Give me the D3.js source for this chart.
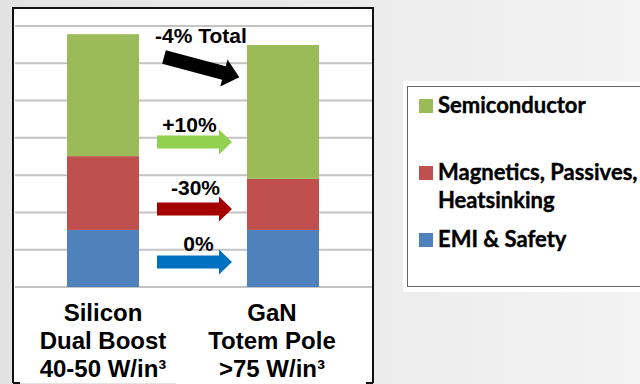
<!DOCTYPE html>
<html>
<head>
<meta charset="utf-8">
<script src="https://cdn.jsdelivr.net/npm/d3@7"></script>
<style>
  html, body { margin: 0; padding: 0; }
  body { width: 640px; height: 384px; overflow: hidden; }
</style>
</head>
<body>
<div id="chart"></div>
<script>
// categories and stacked values (axis 0..70)
var categories = ["Silicon", "GaN"];
var categoryLines = [
    ["Silicon", "Dual Boost", "40-50 W/in\u00B3"],
    ["GaN", "Totem Pole", ">75 W/in\u00B3"]
];
var seriesNames = ["EMI & Safety", "Magnetics, Passives, Heatsinking", "Semiconductor"];
var emiValues = [15.3, 15.3];
var magneticsValues = [19.8, 13.7];
var semiValues = [32.7, 35.9];
var gridTicks = [0, 10, 20, 30, 40, 50, 60, 70];

// change annotations between the two bars
var changeLabels = ["-4% Total", "+10%", "-30%", "0%"];
var changeLevels = [null, 38.9, 20.9, 6.7];

var seriesColors = ["#4F81BD", "#C0504D", "#9BBB59"];
var arrowColors = ["#000000", "#92D050", "#A50000", "#0070C0"];

var width = 640, height = 384;
var svg = d3.select("#chart").append("svg")
    .attr("width", width)
    .attr("height", height);

// light grey slide background
var defs = svg.append("defs");
var grad = defs.append("linearGradient").attr("id", "bg")
    .attr("x1", "0%").attr("x2", "100%").attr("y1", "0%").attr("y2", "0%");
grad.append("stop").attr("offset", "0%").attr("stop-color", "#e2e2e2");
grad.append("stop").attr("offset", "100%").attr("stop-color", "#f3f3f3");
svg.append("rect").attr("width", width).attr("height", height).attr("fill", "url(#bg)");

// chart frame
var frame = { left: 13, top: 8, right: 373, bottom: 383 };
svg.append("rect")
    .attr("x", frame.left).attr("y", frame.top)
    .attr("width", frame.right - frame.left).attr("height", frame.bottom - frame.top)
    .attr("fill", "#ffffff");

var yScale = d3.scaleLinear().domain([0, 70]).range([287, 26]);
var xScale = d3.scaleBand().domain(categories)
    .range([frame.left, frame.right]).paddingInner(0.6).paddingOuter(0.3);

// gridlines
svg.append("g").selectAll("line")
    .data(gridTicks)
    .enter().append("line")
    .attr("x1", 15).attr("x2", frame.right - 1)
    .attr("y1", d => yScale(d)).attr("y2", d => yScale(d))
    .attr("stroke", "#c3c3c3").attr("stroke-width", 2);

// stacked bars
var rows = categories.map((c, i) => ({
    cat: c, emi: emiValues[i], mag: magneticsValues[i], semi: semiValues[i]
}));
var stack = d3.stack().keys(["emi", "mag", "semi"]);
var layers = stack(rows);
svg.append("g").selectAll("g")
    .data(layers)
    .enter().append("g")
    .attr("fill", (d, i) => seriesColors[i])
    .selectAll("rect")
    .data(d => d)
    .enter().append("rect")
    .attr("x", d => xScale(d.data.cat))
    .attr("width", xScale.bandwidth())
    .attr("y", d => yScale(d[1]))
    .attr("height", d => yScale(d[0]) - yScale(d[1]));

// white label box under the GaN label hides part of the baseline
svg.append("rect")
    .attr("x", 176).attr("y", 288).attr("width", 194).attr("height", 96)
    .attr("fill", "#ffffff");

// category labels
var labelShift = [0, -11];
categoryLines.forEach((lines, i) => {
    var t = svg.append("text")
        .attr("text-anchor", "middle")
        .attr("font-family", "Liberation Sans, Arial, sans-serif")
        .attr("font-weight", "bold")
        .attr("font-size", 24)
        .attr("fill", "#000");
    lines.forEach((line, j) => {
        t.append("tspan")
            .attr("x", xScale(categories[i]) + xScale.bandwidth() / 2 + labelShift[i])
            .attr("y", 321 + j * 28)
            .text(line);
    });
});

// frame border (bottom edge is mostly off-slide)
svg.append("path")
    .attr("d", `M${frame.left},${frame.bottom} V${frame.top} H${frame.right} V${frame.bottom}`)
    .attr("fill", "none").attr("stroke", "#111").attr("stroke-width", 2);
svg.append("path")
    .attr("d", `M${frame.left},${frame.bottom} h7 M${frame.right},${frame.bottom} h-7`)
    .attr("fill", "none").attr("stroke", "#111").attr("stroke-width", 2);

// arrows between bars
var ax0 = 157, ax1 = 232, headLen = 13, shaftHalf = 6.5, headHalf = 12.5;
function arrowPath(len) {
    return `M0,${-shaftHalf} H${len - headLen} V${-headHalf} L${len},0 L${len - headLen},${headHalf} V${shaftHalf} H0 Z`;
}
changeLabels.forEach((lab, i) => {
    var font = { family: "Liberation Sans, Arial, sans-serif", size: 21 };
    if (changeLevels[i] === null) {
        // diagonal total arrow
        svg.append("path")
            .attr("d", "M0,-7 H62 V-14 L78,0 L62,14 V7 H0 Z")
            .attr("transform", "translate(164,57) rotate(15)")
            .attr("fill", arrowColors[i]);
        svg.append("text")
            .attr("x", 201).attr("y", 43)
            .attr("text-anchor", "middle")
            .attr("font-family", font.family).attr("font-weight", "bold")
            .attr("font-size", font.size).text(lab);
    } else {
        var cy = yScale(changeLevels[i]);
        svg.append("path")
            .attr("d", arrowPath(ax1 - ax0))
            .attr("transform", `translate(${ax0},${cy})`)
            .attr("fill", arrowColors[i]);
        var textDx = [0, -5, 1, 4][i];
        var textDy = [0, -10, -14, -11][i];
        svg.append("text")
            .attr("x", (ax0 + ax1) / 2 + textDx).attr("y", cy + textDy)
            .attr("text-anchor", "middle")
            .attr("font-family", font.family).attr("font-weight", "bold")
            .attr("font-size", font.size).text(lab);
    }
});

// legend
svg.append("rect").attr("x", 403).attr("y", 81).attr("width", 240).attr("height", 211)
    .attr("fill", "#ffffff");
svg.append("rect").attr("x", 407.5).attr("y", 86.5).attr("width", 240).attr("height", 200)
    .attr("fill", "#ffffff").attr("stroke", "#666").attr("stroke-width", 1);

var legendItems = [
    { name: seriesNames[2], color: seriesColors[2], y: 113, lines: ["Semiconductor"] },
    { name: seriesNames[1], color: seriesColors[1], y: 180, lines: ["Magnetics, Passives,", "Heatsinking"] },
    { name: seriesNames[0], color: seriesColors[0], y: 247, lines: ["EMI & Safety"] }
];
var leg = svg.append("g").selectAll("g").data(legendItems).enter().append("g");
leg.append("rect")
    .attr("x", 419).attr("y", d => d.y - 14)
    .attr("width", 14).attr("height", 14)
    .attr("fill", d => d.color);
leg.append("text")
    .attr("font-family", "Lato, 'Open Sans', sans-serif")
    .attr("font-weight", "bold")
    .attr("font-size", 22)
    .attr("fill", "#000")
    .attr("stroke", "#000").attr("stroke-width", 0.4)
    .each(function(d) {
        var t = d3.select(this);
        d.lines.forEach((line, j) => {
            t.append("tspan").attr("x", 438).attr("y", d.y + j * 28).text(line);
        });
    });
</script>
</body>
</html>
